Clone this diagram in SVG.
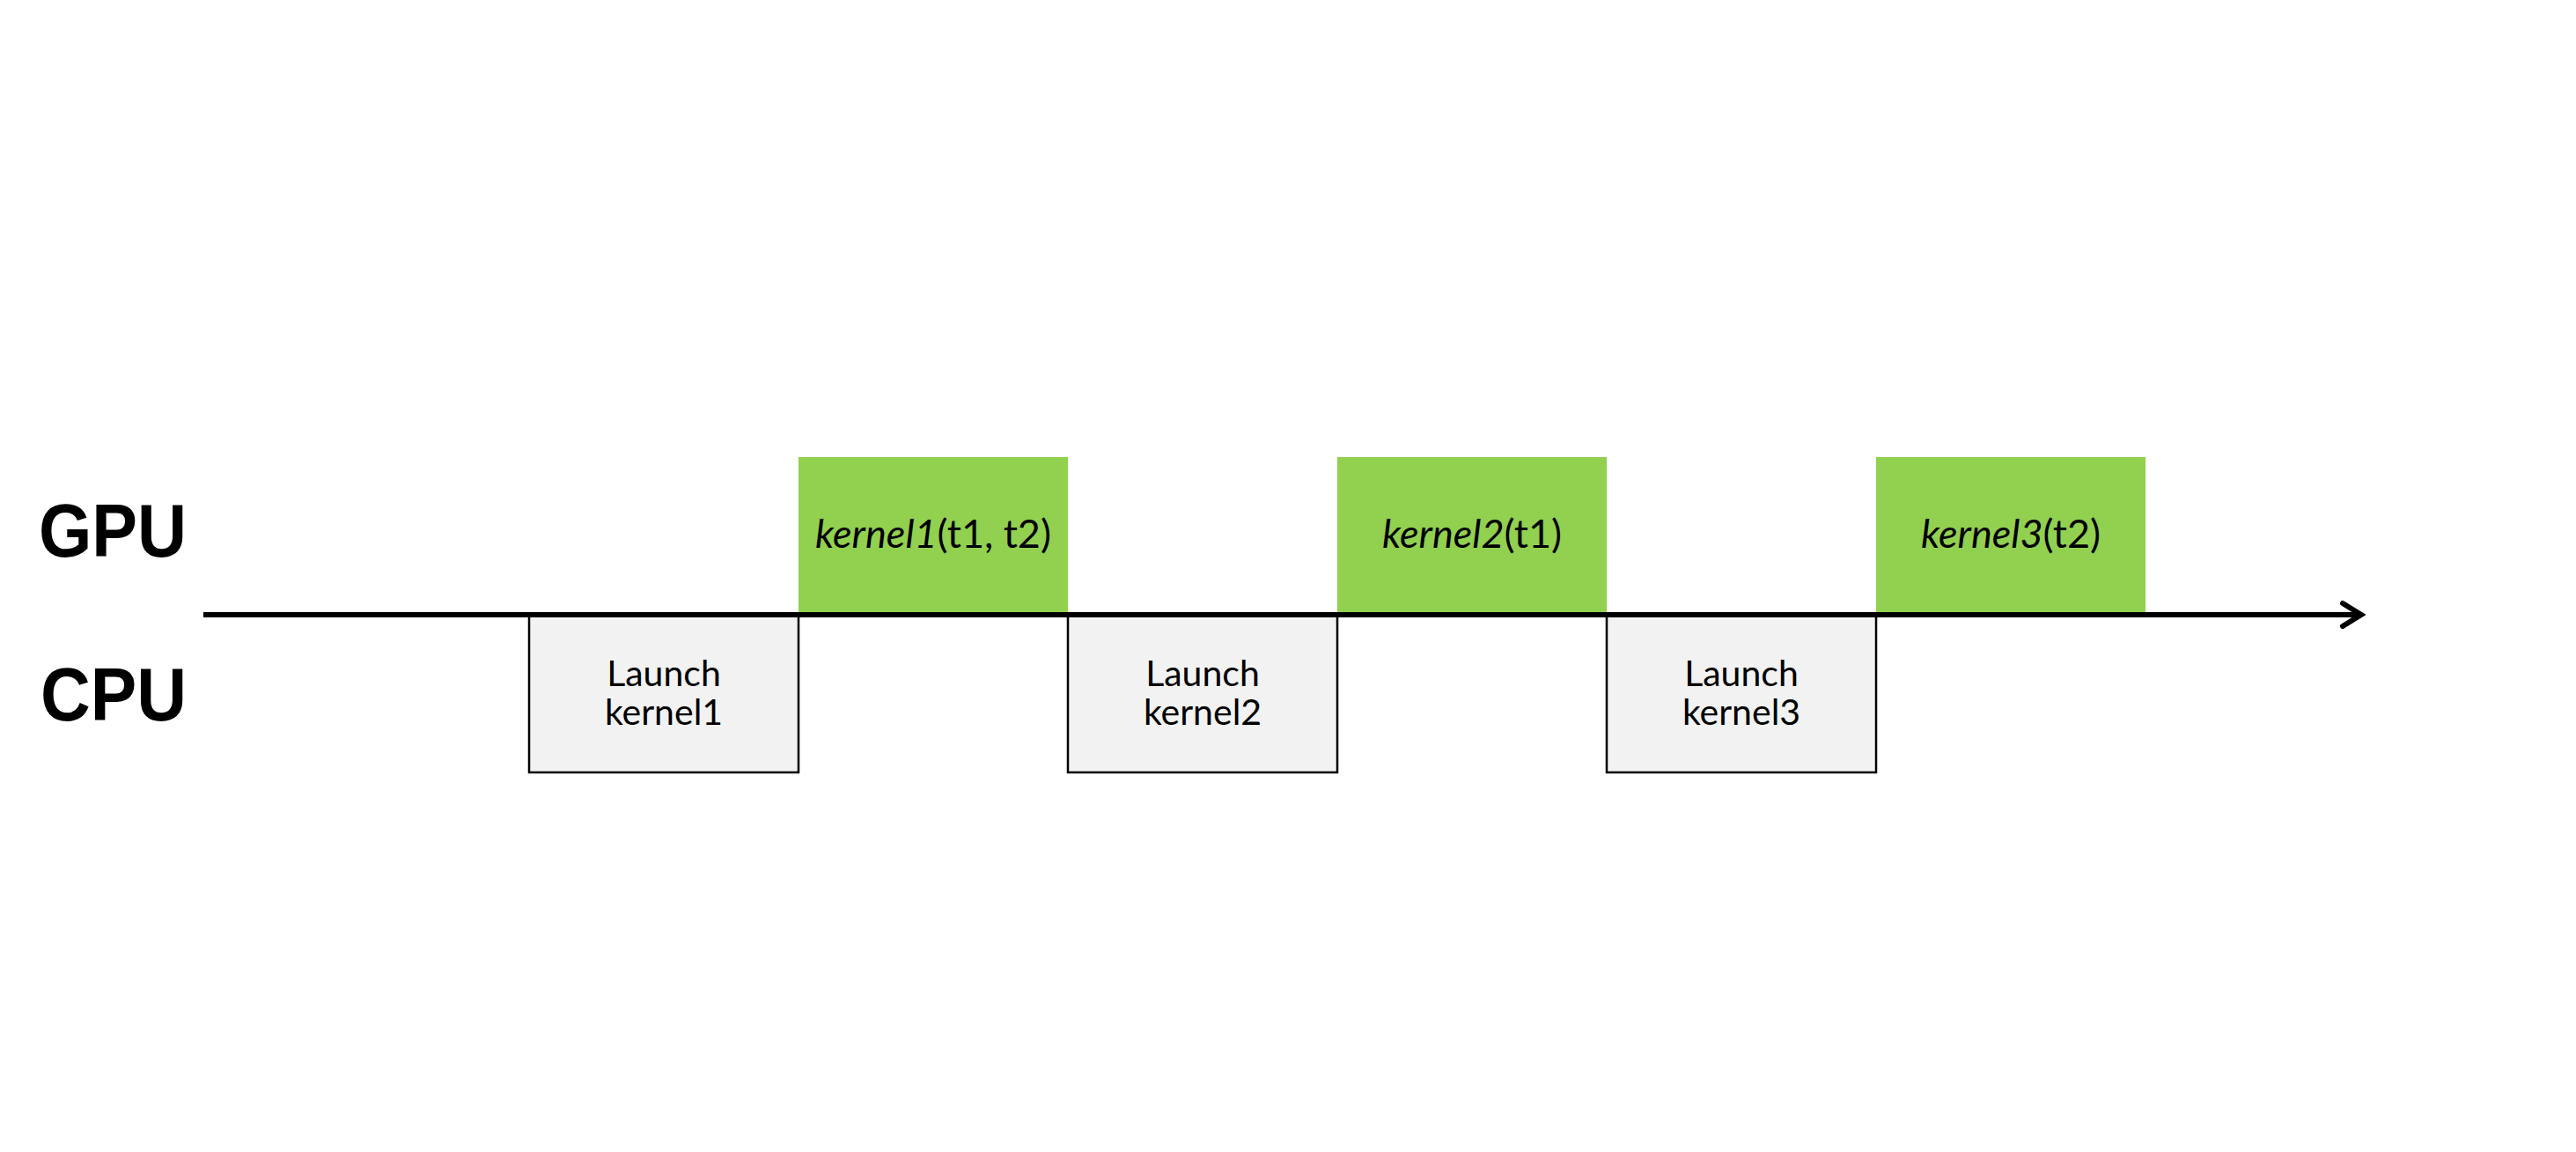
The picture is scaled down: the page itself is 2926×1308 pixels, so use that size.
<svg xmlns="http://www.w3.org/2000/svg" width="2926" height="1308" viewBox="0 0 2926 1308">
  <style>
    .lane { font-family: "Liberation Sans", Arial, sans-serif; font-weight: bold; font-size: 86px; fill: #000; }
    .gpu { fill: #92d050; stroke: none; }
    .cpu { fill: #f2f2f2; stroke: #000; stroke-width: 2.5; }
    .lbl { font-family: Lato, "Open Sans", sans-serif; font-size: 41px; fill: #000; text-anchor: middle; }
    .glbl { font-family: Lato, "Open Sans", sans-serif; font-size: 45px; fill: #000; text-anchor: middle; }
    .axis { stroke: #000; stroke-width: 6; fill: none; }
  </style>
  <rect width="2926" height="1308" fill="#ffffff"/>

  <g id="label-gpu"><text class="lane" x="44" y="632" textLength="168" lengthAdjust="spacingAndGlyphs">GPU</text></g>
  <g id="label-cpu"><text class="lane" x="46" y="818" textLength="166" lengthAdjust="spacingAndGlyphs">CPU</text></g>

  <g id="launch1">
    <rect class="cpu" x="601" y="698" width="306" height="179"/>
    <text class="lbl" x="754" y="779">Launch</text>
    <text class="lbl" x="754" y="823">kernel1</text>
  </g>
  <g id="launch2">
    <rect class="cpu" x="1213" y="698" width="306" height="179"/>
    <text class="lbl" x="1366" y="779">Launch</text>
    <text class="lbl" x="1366" y="823">kernel2</text>
  </g>
  <g id="launch3">
    <rect class="cpu" x="1825" y="698" width="306" height="179"/>
    <text class="lbl" x="1978" y="779">Launch</text>
    <text class="lbl" x="1978" y="823">kernel3</text>
  </g>

  <g id="kernel1">
    <rect class="gpu" x="907" y="519" width="306" height="179"/>
    <text class="glbl" x="1060" y="622"><tspan font-style="italic">kernel1</tspan>(t1, t2)</text>
  </g>
  <g id="kernel2">
    <rect class="gpu" x="1519" y="519" width="306" height="179"/>
    <text class="glbl" x="1672" y="622"><tspan font-style="italic">kernel2</tspan>(t1)</text>
  </g>
  <g id="kernel3">
    <rect class="gpu" x="2131" y="519" width="306" height="179"/>
    <text class="glbl" x="2284" y="622"><tspan font-style="italic">kernel3</tspan>(t2)</text>
  </g>

  <g id="connectors">
    <line class="axis" x1="231" y1="698" x2="2680" y2="698"/>
    <polyline class="axis" points="2661,685 2682,698 2661,711" stroke-linecap="round" stroke-linejoin="miter"/>
  </g>
</svg>
